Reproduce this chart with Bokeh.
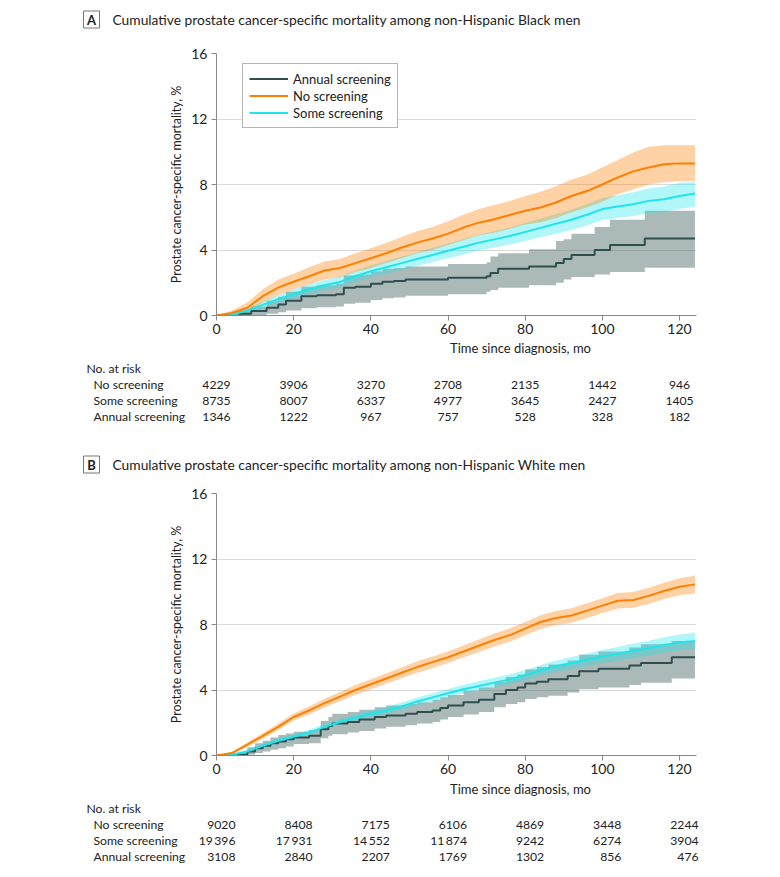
from bokeh.plotting import figure
from bokeh.models import Range1d, ColumnDataSource, Legend, LegendItem
from bokeh.core.properties import value
from bokeh.embed import file_html
from bokeh.resources import INLINE

# ---------------- data ----------------
T4 = [0, 4, 8, 12, 16, 20, 24, 28, 32, 36, 40, 44, 48, 52, 56, 60,
      64, 68, 72, 76, 80, 84, 88, 92, 96, 100, 104, 108, 112, 116, 120, 124]

# Panel A: non-Hispanic Black men
A_no_est = [0, 0.15, 0.47, 1.18, 1.7, 2.06, 2.4, 2.75, 2.9, 3.2, 3.5, 3.8, 4.15, 4.45, 4.7, 5.0,
            5.37, 5.67, 5.88, 6.14, 6.4, 6.6, 6.9, 7.3, 7.6, 8.0, 8.43, 8.8, 9.04, 9.24, 9.29, 9.29]
A_no_hi = [0, 0.3, 0.8, 1.6, 2.2, 2.55, 2.95, 3.3, 3.45, 3.8, 4.1, 4.45, 4.8, 5.15, 5.4, 5.75,
           6.15, 6.5, 6.75, 7.0, 7.3, 7.55, 7.9, 8.3, 8.6, 9.05, 9.5, 9.95, 10.3, 10.4, 10.4, 10.4]
A_no_lo = [0, 0.03, 0.2, 0.8, 1.25, 1.6, 1.9, 2.2, 2.35, 2.65, 2.9, 3.2, 3.5, 3.8, 4.0, 4.3,
           4.6, 4.9, 5.05, 5.3, 5.55, 5.7, 5.95, 6.3, 6.6, 6.95, 7.4, 7.7, 8.0, 8.15, 8.2, 8.2]
A_some_est = [0, 0.05, 0.3, 0.65, 1.0, 1.3, 1.6, 1.85, 2.05, 2.4, 2.7, 2.95, 3.2, 3.45, 3.7, 3.95,
              4.2, 4.45, 4.65, 4.85, 5.1, 5.35, 5.6, 5.85, 6.15, 6.5, 6.65, 6.8, 7.0, 7.1, 7.3, 7.45]
A_some_hi = [0, 0.12, 0.45, 0.85, 1.25, 1.6, 1.9, 2.17, 2.38, 2.75, 3.07, 3.33, 3.6, 3.87, 4.13, 4.4,
             4.67, 4.93, 5.15, 5.37, 5.65, 5.92, 6.2, 6.47, 6.8, 7.17, 7.35, 7.53, 7.75, 7.88, 8.1, 8.15]
A_some_lo = [0, 0, 0.15, 0.45, 0.75, 1.0, 1.3, 1.53, 1.72, 2.05, 2.33, 2.57, 2.8, 3.03, 3.27, 3.5,
             3.73, 3.97, 4.15, 4.33, 4.55, 4.78, 5.0, 5.23, 5.5, 5.83, 5.95, 6.07, 6.25, 6.32, 6.5, 6.65]
A_ann_t = [0, 6, 9, 13, 16, 18, 22, 26, 31, 33, 36, 40, 43, 46, 49, 60, 70, 71, 73, 81, 88, 90,
           92, 98, 102, 111, 124]
A_ann_est = [0, 0.1, 0.27, 0.47, 0.67, 0.9, 1.18, 1.24, 1.3, 1.7, 1.75, 1.94, 2.06, 2.1, 2.2, 2.3,
             2.4, 2.6, 2.85, 3.0, 3.2, 3.45, 3.7, 4.0, 4.3, 4.7, 4.7]
A_ann_hi = [0, 0.3, 0.55, 0.9, 1.15, 1.45, 1.75, 1.85, 1.95, 2.45, 2.5, 2.7, 2.85, 2.9, 3.0, 3.15,
            3.25, 3.6, 3.8, 4.05, 4.55, 4.65, 5.0, 5.4, 5.85, 6.4, 6.4]
A_ann_lo = [0, 0, 0.02, 0.1, 0.2, 0.3, 0.45, 0.5, 0.55, 0.72, 0.78, 0.95, 1.05, 1.1, 1.2, 1.3,
            1.45, 1.55, 1.7, 1.85, 2.0, 2.2, 2.35, 2.5, 2.65, 2.92, 2.92]

# Panel B: non-Hispanic White men
B_no_est = [0, 0.15, 0.67, 1.2, 1.75, 2.35, 2.75, 3.2, 3.6, 4.0, 4.35, 4.7, 5.05, 5.4, 5.7, 6.0,
            6.35, 6.7, 7.05, 7.35, 7.75, 8.15, 8.4, 8.55, 8.85, 9.15, 9.45, 9.5, 9.75, 10.05, 10.3, 10.45]
B_no_hi = [0, 0.22, 0.8, 1.37, 1.95, 2.57, 3.0, 3.47, 3.88, 4.3, 4.65, 5.02, 5.38, 5.75, 6.05, 6.35,
           6.72, 7.08, 7.45, 7.75, 8.15, 8.57, 8.83, 8.99, 9.3, 9.6, 9.92, 9.98, 10.25, 10.55, 10.82, 11.0]
B_no_lo = [0, 0.08, 0.54, 1.03, 1.55, 2.13, 2.5, 2.93, 3.32, 3.7, 4.05, 4.38, 4.72, 5.05, 5.35, 5.65,
           5.98, 6.32, 6.65, 6.95, 7.35, 7.73, 7.97, 8.11, 8.4, 8.7, 8.98, 9.02, 9.25, 9.55, 9.78, 9.9]
B_some_est = [0, 0.05, 0.25, 0.6, 0.9, 1.15, 1.4, 1.75, 2.05, 2.3, 2.55, 2.75, 3.0, 3.3, 3.55, 3.8,
              4.05, 4.25, 4.45, 4.65, 4.9, 5.2, 5.45, 5.65, 5.85, 6.05, 6.2, 6.4, 6.55, 6.75, 6.9, 7.0]
B_some_hi = [0, 0.1, 0.35, 0.73, 1.05, 1.3, 1.57, 1.92, 2.23, 2.5, 2.76, 2.97, 3.23, 3.54, 3.8, 4.06,
             4.32, 4.53, 4.75, 4.96, 5.22, 5.53, 5.8, 6.02, 6.23, 6.45, 6.62, 6.84, 7.01, 7.22, 7.39, 7.5]
B_some_lo = [0, 0.01, 0.15, 0.47, 0.75, 1.0, 1.23, 1.58, 1.87, 2.1, 2.34, 2.53, 2.77, 3.06, 3.3, 3.54,
             3.78, 3.97, 4.15, 4.34, 4.58, 4.87, 5.1, 5.28, 5.47, 5.65, 5.78, 5.96, 6.09, 6.28, 6.41, 6.5]
B_ann_t = [0, 4, 8, 10, 12, 14, 16, 18, 20, 24, 27, 29, 30, 34, 37, 41, 44, 49, 52, 56,
           58, 60, 64, 68, 72, 75, 78, 80, 83, 86, 91, 94, 99, 107, 110, 118, 124]
B_ann_est = [0, 0.05, 0.25, 0.45, 0.6, 0.75, 0.85, 1.0, 1.1, 1.2, 1.6, 1.8, 1.95, 2.05, 2.2, 2.35,
             2.45, 2.55, 2.65, 2.75, 2.9, 3.05, 3.25, 3.4, 3.75, 4.0, 4.15, 4.4, 4.5, 4.65, 4.85,
             5.15, 5.3, 5.5, 5.65, 6.0, 6.0]
B_ann_hi = [0, 0.15, 0.5, 0.75, 0.9, 1.1, 1.25, 1.35, 1.45, 1.55, 2.1, 2.35, 2.55, 2.65, 2.8, 2.95,
            3.05, 3.15, 3.25, 3.4, 3.55, 3.7, 3.95, 4.15, 4.5, 4.8, 4.95, 5.25, 5.4, 5.55, 5.8,
            6.15, 6.35, 6.6, 6.8, 7.0, 7.0]
B_ann_lo = [0, 0, 0.05, 0.15, 0.25, 0.35, 0.45, 0.55, 0.7, 0.75, 1.05, 1.2, 1.3, 1.4, 1.5, 1.65,
            1.75, 1.85, 1.95, 2.05, 2.2, 2.35, 2.5, 2.65, 2.95, 3.15, 3.25, 3.45, 3.55, 3.65, 3.85,
            4.05, 4.15, 4.3, 4.45, 4.7, 4.7]

groups = ["No screening", "Some screening", "Annual screening"]
legend_order = ["Annual screening", "No screening", "Some screening"]
risk_times = [0, 20, 40, 60, 80, 100, 120]
A_risk_no = [4229, 3906, 3270, 2708, 2135, 1442, 946]
A_risk_some = [8735, 8007, 6337, 4977, 3645, 2427, 1405]
A_risk_ann = [1346, 1222, 967, 757, 528, 328, 182]
B_risk_no = [9020, 8408, 7175, 6106, 4869, 3448, 2244]
B_risk_some = [19396, 17931, 14552, 11874, 9242, 6274, 3904]
B_risk_ann = [3108, 2840, 2207, 1769, 1302, 856, 476]

x_ticks = [0, 20, 40, 60, 80, 100, 120]
y_ticks = [0, 4, 8, 12, 16]
letters = ["A", "B"]
titles = ["Cumulative prostate cancer-specific mortality among non-Hispanic Black men",
          "Cumulative prostate cancer-specific mortality among non-Hispanic White men"]
x_title = "Time since diagnosis, mo"
y_title = "Prostate cancer-specific mortality, %"
risk_header = "No. at risk"

# ---------------- style ----------------
COL = {"No screening": "#FF7F00", "Some screening": "#1FE5EA", "Annual screening": "#2F4F4F"}
BAND_ALPHA = {"No screening": 0.35, "Some screening": 0.35, "Annual screening": 0.4}
STEPPED = {"No screening": False, "Some screening": False, "Annual screening": True}
FONT = "Lato"
TXT = "#222222"

W = 772
FR_L, FR_R = 216, 696          # canvas x of the plot frame
X_MAX = 124.4
PXX = (FR_R - FR_L) / X_MAX


def xd(px):
    return (px - FR_L) / PXX


def fmt(n):
    s = str(n)
    if n >= 10000:
        s = s[:-3] + "\u2009" + s[-3:]
    return s


def blank(height, x_range):
    p = figure(width=W, height=height, x_range=x_range, y_range=Range1d(height, 0),
               output_backend="svg", toolbar_location=None,
               x_axis_location=None, y_axis_location=None,
               min_border_left=0, min_border_right=0, min_border_top=0, min_border_bottom=0)
    p.outline_line_color = None
    p.xgrid.grid_line_color = None
    p.ygrid.grid_line_color = None
    return p


def header(letter, title, height, cy):
    p = blank(height, Range1d(0, W))
    p.rect(x=[91], y=[cy], width=16, height=17, fill_color="white",
           line_color="#777777", line_width=1)
    p.text(x=[91], y=[cy], text=[letter], text_align="center", text_baseline="middle",
           text_font=value(FONT), text_font_style="bold", text_font_size="13px",
           text_color=TXT)
    p.text(x=[112], y=[cy], text=[title], text_align="left", text_baseline="middle",
           text_font=value(FONT), text_font_size="13.8px", text_color=TXT)
    return p


def chart(series, top_border, bottom_border, with_legend):
    p = figure(width=W, height=top_border + 262 + bottom_border,
               x_range=Range1d(0, X_MAX), y_range=Range1d(0, 16),
               output_backend="svg", toolbar_location=None,
               min_border_left=FR_L, min_border_right=W - FR_R,
               min_border_top=top_border, min_border_bottom=bottom_border)
    p.outline_line_color = None
    p.xgrid.grid_line_color = None
    p.ygrid.grid_line_color = "#dadada"
    for ax in (p.xaxis[0], p.yaxis[0]):
        ax.axis_line_color = "#8a8a8a"
        ax.major_tick_line_color = "#8a8a8a"
        ax.major_tick_out = 5
        ax.major_tick_in = 0
        ax.minor_tick_line_color = None
        ax.major_label_text_font = FONT
        ax.major_label_text_font_size = "14px"
        ax.major_label_text_color = TXT
    p.xaxis.ticker = x_ticks
    p.yaxis.ticker = y_ticks
    p.xaxis.major_label_standoff = 3
    p.yaxis.major_label_standoff = 4
    p.yaxis.axis_label = y_title
    p.yaxis.axis_label_text_font = FONT
    p.yaxis.axis_label_text_font_size = "12.4px"
    p.yaxis.axis_label_text_font_style = "normal"
    p.yaxis.axis_label_text_color = TXT
    p.yaxis.axis_label_standoff = 4

    renderers = {}
    for name in ["Annual screening", "Some screening", "No screening"]:
        t, est, lo, hi = series[name]
        src = ColumnDataSource(dict(t=t, lo=lo, hi=hi))
        if STEPPED[name]:
            p.varea_step(x="t", y1="lo", y2="hi", source=src, step_mode="after",
                         fill_color=COL[name], fill_alpha=BAND_ALPHA[name])
        else:
            p.varea(x="t", y1="lo", y2="hi", source=src,
                    fill_color=COL[name], fill_alpha=BAND_ALPHA[name])
    for name in ["Annual screening", "Some screening", "No screening"]:
        t, est, lo, hi = series[name]
        src = ColumnDataSource(dict(t=t, est=est))
        if STEPPED[name]:
            renderers[name] = p.step(x="t", y="est", source=src, mode="after",
                                     line_color=COL[name], line_width=2)
        else:
            renderers[name] = p.line(x="t", y="est", source=src,
                                     line_color=COL[name], line_width=2)

    if with_legend:
        leg = Legend(items=[LegendItem(label=n, renderers=[renderers[n]]) for n in legend_order],
                     location=(26, 187))
        leg.margin = 0
        leg.padding = 6
        leg.spacing = 0
        leg.label_height = 17
        leg.glyph_height = 17
        leg.glyph_width = 39
        leg.label_standoff = 5
        leg.border_line_color = "#6a6a6a"
        leg.border_line_width = 1
        leg.background_fill_alpha = 1
        leg.label_text_font = FONT
        leg.label_text_font_size = "13px"
        leg.label_text_color = TXT
        p.add_layout(leg)
    return p


def table(risk, height, y_xlabel, y_header, y_rows, align):
    p = blank(height, Range1d(xd(0), xd(W)))
    kw = dict(text_baseline="middle", text_font=value(FONT), text_font_size="12.2px",
              text_color=TXT)
    p.text(x=[xd(520)], y=[y_xlabel], text=[x_title], text_align="center",
           text_baseline="middle", text_font=value(FONT), text_font_size="13px",
           text_color=TXT)
    p.text(x=[xd(86)], y=[y_header], text=[risk_header], text_align="left", **kw)
    p.text(x=[xd(93)] * len(groups), y=y_rows, text=groups, text_align="left", **kw)
    xs, ys, tx = [], [], []
    for ry, name in zip(y_rows, groups):
        for tt, n in zip(risk_times, risk[name]):
            xs.append(tt)
            ys.append(ry)
            tx.append(fmt(n))
    src = ColumnDataSource(dict(x=xs, y=ys, text=tx))
    if align == "center":
        p.text(x="x", y="y", text="text", source=src, text_align="center", **kw)
    else:
        p.text(x="x", y="y", text="text", source=src, text_align="right", x_offset=19, **kw)
    return p


series_A = {
    "No screening": (T4, A_no_est, A_no_lo, A_no_hi),
    "Some screening": (T4, A_some_est, A_some_lo, A_some_hi),
    "Annual screening": (A_ann_t, A_ann_est, A_ann_lo, A_ann_hi),
}
series_B = {
    "No screening": (T4, B_no_est, B_no_lo, B_no_hi),
    "Some screening": (T4, B_some_est, B_some_lo, B_some_hi),
    "Annual screening": (B_ann_t, B_ann_est, B_ann_lo, B_ann_hi),
}
risk_A = {"No screening": A_risk_no, "Some screening": A_risk_some, "Annual screening": A_risk_ann}
risk_B = {"No screening": B_risk_no, "Some screening": B_risk_some, "Annual screening": B_risk_ann}

# Panel A: canvas rows 0-40 header, 40-338 chart (frame 53-315), 338-440 table
hA = header(letters[0], titles[0], 40, 19)
cA = chart(series_A, 13, 23, True)
tA = table(risk_A, 102, 9, 30, [46, 62, 78], "center")
# Panel B: 440-478 header, 478-778 chart (frame 493-755), 778-877 table
hB = header(letters[1], titles[1], 38, 24)
cB = chart(series_B, 15, 23, False)
tB = table(risk_B, 99, 10, 30, [46, 62, 78], "right")

# separate roots stacked vertically (no frame alignment between them)
open("out.html", "w").write(file_html([hA, cA, tA, hB, cB, tB], INLINE))
